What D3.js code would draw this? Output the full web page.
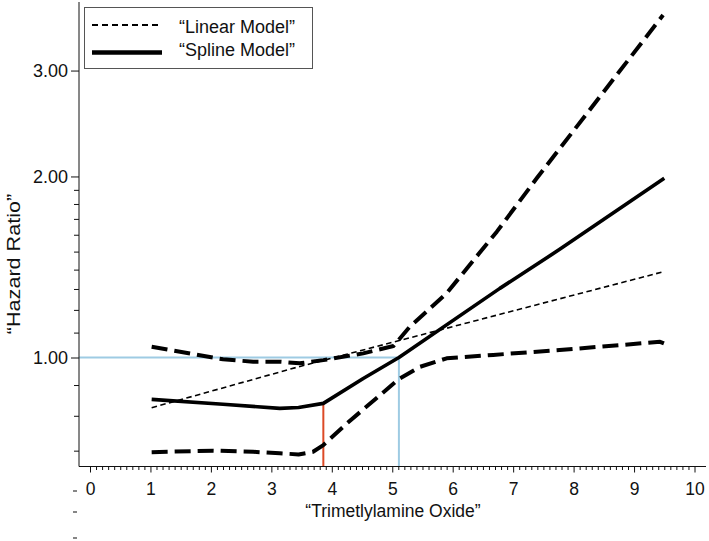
<!DOCTYPE html>
<html><head><meta charset="utf-8">
<script src="https://cdn.jsdelivr.net/npm/d3@7"></script>
<style>body{margin:0;background:#fff}svg{display:block;font-family:"Liberation Sans",Arial,sans-serif}</style>
</head><body><svg id="c" width="709" height="541"></svg>
<script>
// ---- data ----
const xTicks = [0,1,2,3,4,5,6,7,8,9,10];
const yTicks = [1,2,3];
const yTickLabels = ["1.00","2.00","3.00"];
const yMinorTicks = [0.7,0.8,0.9,1.1,1.2,1.3,1.4,1.5,1.6,1.7,1.8,1.9];
const seriesNames = ["\u201CLinear Model\u201D","\u201CSpline Model\u201D"];
const xTitle = "\u201CTrimetlylamine Oxide\u201D";
const yTitle = "\u201CHazard Ratio\u201D";

const linearX  = [1.02, 3.45, 9.49];
const linearHR = [0.825, 0.965, 1.389];

const splineX  = [1.02, 2.2, 3.14, 3.45, 3.86, 4.52, 5.11, 6.78, 7.77, 9.5];
const splineHR = [0.852, 0.836, 0.823, 0.826, 0.839, 0.923, 1.0, 1.303, 1.513, 1.986];

const upperX  = [1.02, 2.2, 2.7, 3.14, 3.47, 3.86, 4.52, 5.02, 5.29, 5.9, 6.73, 7.39, 9.48];
const upperHR = [1.042, 0.993, 0.984, 0.984, 0.978, 0.99, 1.016, 1.045, 1.125, 1.279, 1.619, 1.986, 3.71];

const lowerX  = [1.02, 2.04, 2.7, 3.14, 3.45, 3.69, 3.86, 4.25, 5.11, 5.46, 5.9, 6.67, 7.77, 9.43, 9.5];
const lowerHR = [0.696, 0.70, 0.697, 0.693, 0.690, 0.697, 0.715, 0.777, 0.921, 0.965, 0.997, 1.01, 1.029, 1.062, 1.055];

const cutRed = 3.86, cutRedHR = 0.839;
const cutBlue = 5.11, refHR = 1.0;

// ---- chart ----
const svg = d3.select("#c");
const x = d3.scaleLinear().domain([0,10]).range([90,694.5]);
const y = d3.scaleLog().domain([1,3]).range([357.5, 70.55]);
const axX = 79, axY = 466.5;
const ink = "#111";

// reference lines
svg.append("line").attr("x1",axX).attr("x2",x(cutBlue)).attr("y1",y(refHR)).attr("y2",y(refHR))
  .attr("stroke","#9ecbe3").attr("stroke-width",2);
svg.append("line").attr("x1",x(cutBlue)).attr("x2",x(cutBlue)).attr("y1",y(refHR)).attr("y2",axY)
  .attr("stroke","#9ecbe3").attr("stroke-width",2);
svg.append("line").attr("x1",x(cutRed)).attr("x2",x(cutRed)).attr("y1",y(cutRedHR)).attr("y2",axY)
  .attr("stroke","#dc4a26").attr("stroke-width",2);

// axes lines
svg.append("line").attr("x1",axX).attr("x2",axX).attr("y1",2).attr("y2",axY).attr("stroke",ink).attr("stroke-width",1);
svg.append("line").attr("x1",axX).attr("x2",706).attr("y1",axY).attr("y2",axY).attr("stroke",ink).attr("stroke-width",1);

// y axis ticks
const gy = svg.append("g").attr("transform",`translate(${axX},0)`)
  .call(d3.axisLeft(y).tickValues(yTicks).tickFormat((d,i)=>yTickLabels[i]).tickSize(8).tickPadding(3));
const gym = svg.append("g").attr("transform",`translate(${axX},0)`)
  .call(d3.axisLeft(y).tickValues(yMinorTicks).tickFormat("").tickSize(5));
// x axis ticks
const gx = svg.append("g").attr("transform",`translate(0,${axY})`)
  .call(d3.axisBottom(x).tickValues(xTicks).tickFormat(d3.format("d")).tickSize(6));
const minorX = x.ticks(100).filter(d=>Math.abs(d-Math.round(d))>1e-6);
const gxm = svg.append("g").attr("transform",`translate(0,${axY})`)
  .call(d3.axisBottom(x).tickValues(minorX).tickFormat("").tickSize(3.5));
[gy,gym,gx,gxm].forEach(g=>{
  g.select(".domain").remove();
  g.selectAll("line").attr("stroke",ink);
  g.selectAll("text").attr("fill",ink).style("font-size","18px").style("font-family",'"Liberation Sans",Arial,sans-serif');
});
gx.selectAll("text").attr("y",28.5).attr("dy",0).style("font-size","17.5px");

// stray dashes at bottom-left
[491,512,538].forEach(yy=>{
  svg.append("line").attr("x1",73).attr("x2",77).attr("y1",yy).attr("y2",yy).attr("stroke","#444").attr("stroke-width",1.3);
});

// titles
svg.append("text").attr("x",393).attr("y",516.5).attr("text-anchor","middle")
  .style("font-size","17.5px").attr("fill",ink).text(xTitle);
svg.append("text").attr("transform","translate(20,264) rotate(-90) scale(1.2,1)").attr("text-anchor","middle")
  .style("font-size","18px").attr("fill",ink).text(yTitle);

// curves
const line = d3.line().x(d=>x(d[0])).y(d=>y(d[1]));
function draw(xs, hs, w, dash){
  svg.append("path").datum(xs.map((v,i)=>[v,hs[i]])).attr("d",line)
    .attr("fill","none").attr("stroke","#000").attr("stroke-width",w)
    .attr("stroke-dasharray",dash||null).attr("stroke-linejoin","round");
}
draw(linearX, linearHR, 1.6, "5.5,3.5");
draw(upperX, upperHR, 4, "16,7");
draw(lowerX, lowerHR, 4, "16,7");
draw(splineX, splineHR, 3.6);

// legend
const lg = svg.append("g");
lg.append("rect").attr("x",84.5).attr("y",7.5).attr("width",228).attr("height",61)
  .attr("fill","#fff").attr("stroke","#555").attr("stroke-width",1);
lg.append("line").attr("x1",92).attr("x2",162).attr("y1",25).attr("y2",25)
  .attr("stroke","#000").attr("stroke-width",1.8).attr("stroke-dasharray","6,4");
lg.append("line").attr("x1",92).attr("x2",162).attr("y1",52.5).attr("y2",52.5)
  .attr("stroke","#000").attr("stroke-width",4.5);
lg.append("text").attr("x",179).attr("y",32.7).style("font-size","18px").attr("fill",ink).text(seriesNames[0]);
lg.append("text").attr("x",179).attr("y",56).style("font-size","18px").attr("fill",ink).text(seriesNames[1]);
</script></body></html>
